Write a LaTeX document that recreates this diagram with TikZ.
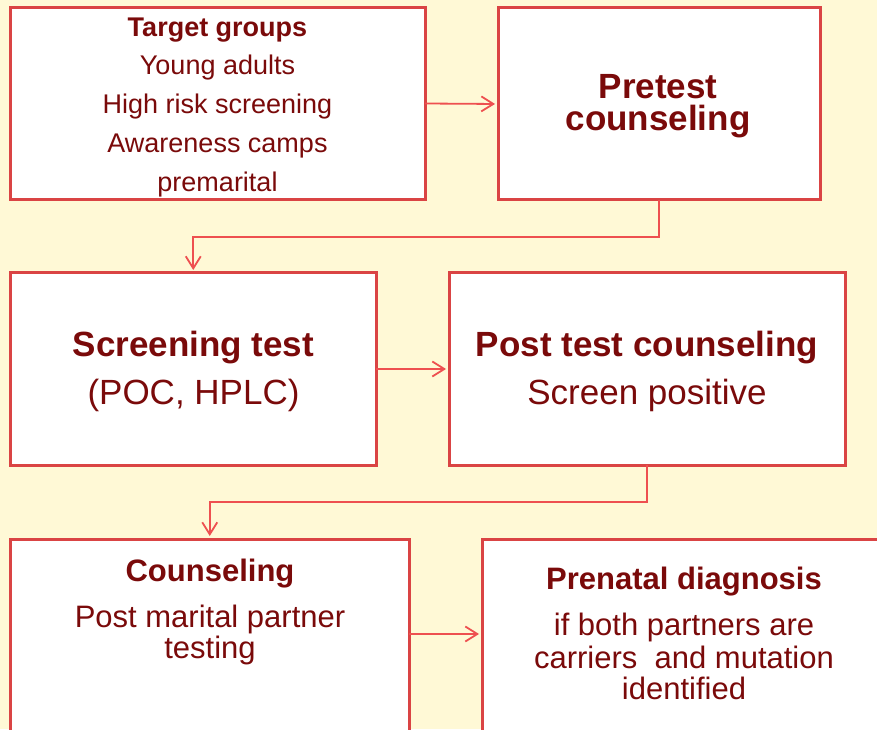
\documentclass[tikz,border=0pt]{standalone}
\usepackage{fontspec}
\setmainfont{Liberation Sans}
\usetikzlibrary{arrows.meta}
\definecolor{bg}{HTML}{FFF9D6}
\definecolor{frame}{HTML}{DA4444}
\definecolor{link}{HTML}{EE5050}
\definecolor{ink}{HTML}{7A0A0A}

\begin{document}
\begin{tikzpicture}[x=1pt,y=1pt,
  box/.style={draw=frame, line width=3pt, fill=white, rectangle, inner sep=0pt, outer sep=0pt},
  arr/.style={draw=link, line width=1.8pt, -{Straight Barb[length=12pt,width=15pt]}, shorten >=3pt},
  txt/.style={text=ink, anchor=base, inner sep=0pt, outer sep=0pt},
  small/.style={txt, font=\fontsize{27}{30}\selectfont},
  smallbold/.style={txt, font=\fontsize{27}{30}\selectfont\bfseries},
  mid/.style={txt, font=\fontsize{31}{34}\selectfont},
  midbold/.style={txt, font=\fontsize{31}{34}\selectfont\bfseries},
  big/.style={txt, font=\fontsize{35}{38}\selectfont},
  bigbold/.style={txt, font=\fontsize{35}{38}\selectfont\bfseries}
]
\useasboundingbox (0,0) rectangle (877,729);
\fill[bg] (0,0) rectangle (877,729);
\clip (0,0) rectangle (877,729);

% boxes
\node[box, minimum width=414.5pt, minimum height=192pt] (tg)   at (217.75,625.5) {};
\node[box, minimum width=322pt,   minimum height=192pt] (pre)  at (659,625) {};
\node[box, minimum width=365.5pt, minimum height=192pt] (scr)  at (193.25,360) {};
\node[box, minimum width=396pt,   minimum height=192pt] (ptc)  at (647,360) {};
\node[box, minimum width=398.5pt, minimum height=250pt] (cnsl) at (209.75,65) {};
\node[box, minimum width=404pt,   minimum height=250pt] (pnd)  at (684,65) {};

% connectors
\draw[arr] (tg.east) -- (pre.west);
\draw[arr] (pre.south) -- ++(0,-37) -| (scr.north);
\draw[arr] (scr.east) -- (ptc.west);
\draw[arr] (ptc.south) -- ++(0,-37) -| (cnsl.north);
\draw[arr] ([yshift=-95pt]cnsl.north east) -- ([yshift=-95pt]pnd.north west);

% target groups
\node[smallbold] (tg1) at (217.5,692.5) {Target groups};
\node[small]     (tg2) at (217.5,654)   {Young adults};
\node[small]     (tg3) at (217.5,615)   {High risk screening};
\node[small]     (tg4) at (217.5,576)   {Awareness camps};
\node[small]     (tg5) at (217.5,537.5) {premarital};

% pretest counseling
\node[bigbold] (pre1) at (658,630) {Pretest};
\node[bigbold] (pre2) at (658,598) {counseling};

% screening test
\node[bigbold] (scr1) at (193.5,372.5) {Screening test};
\node[big]     (scr2) at (193.5,324.5) {(POC, HPLC)};

% post test counseling
\node[bigbold] (ptc1) at (647,372.5) {Post test counseling};
\node[big]     (ptc2) at (647,324.5) {Screen positive};

% counseling
\node[midbold] (cn1) at (210,148)   {Counseling};
\node[mid]     (cn2) at (210,101.5) {Post marital partner};
\node[mid]     (cn3) at (210,70.5)  {testing};

% prenatal diagnosis
\node[midbold] (pd1) at (684,139.5) {Prenatal diagnosis};
\node[mid]     (pd2) at (684,94)    {if both partners are};
\node[mid]     (pd3) at (684,60.8)  {carriers~~and mutation};
\node[mid]     (pd4) at (684,29.2)  {identified};
\end{tikzpicture}
\end{document}
